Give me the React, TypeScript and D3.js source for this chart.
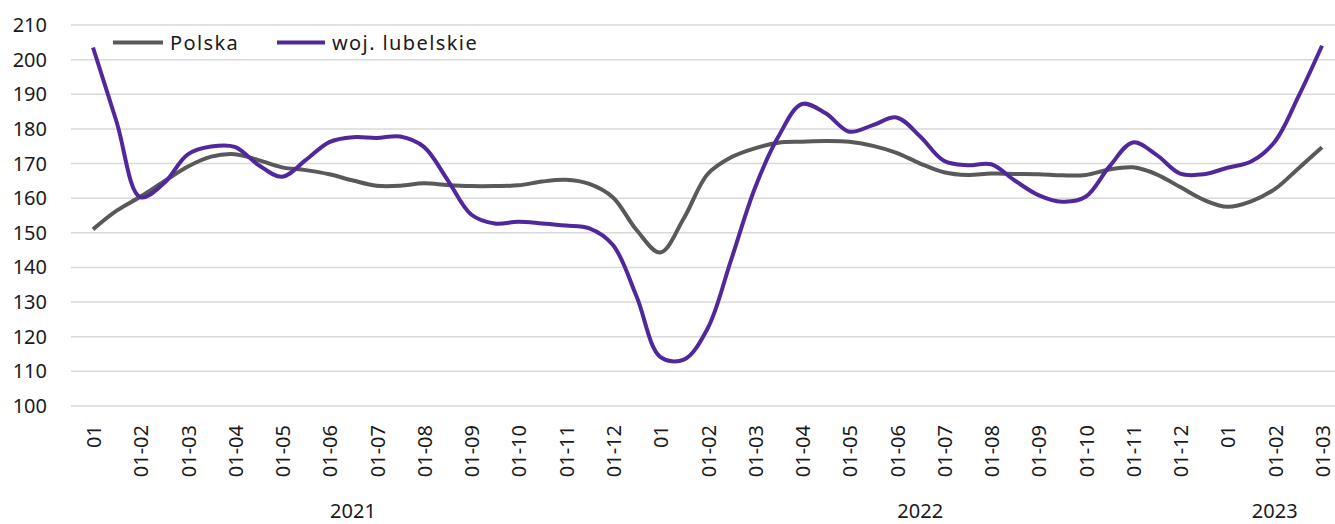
import React from "react";
import * as d3 from "d3";

const categories = [
  "01", "01-02", "01-03", "01-04", "01-05", "01-06", "01-07", "01-08", "01-09", "01-10", "01-11", "01-12",
  "01", "01-02", "01-03", "01-04", "01-05", "01-06", "01-07", "01-08", "01-09", "01-10", "01-11", "01-12",
  "01", "01-02", "01-03",
];

const years = [
  { label: "2021", from: 0, to: 11 },
  { label: "2022", from: 12, to: 23 },
  { label: "2023", from: 24, to: 26 },
];

const yTicks = [100, 110, 120, 130, 140, 150, 160, 170, 180, 190, 200, 210];

// semi-monthly readings (step = half a category)
const polska = [
  151, 156.4, 160.4, 164.8, 169.1, 172, 172.7, 171, 168.9, 168.1,
  166.9, 165.1, 163.6, 163.6, 164.3, 163.8, 163.5, 163.5, 163.7, 164.8,
  165.3, 164.1, 160.2, 150.8, 144.3, 154.2, 166.9, 171.8, 174.4, 176,
  176.3, 176.5, 176.3, 175.1, 173.1, 170, 167.5, 166.7, 167.1, 167,
  166.9, 166.6, 166.7, 168.3, 168.9, 166.9, 163.2, 159.5, 157.5, 159.1,
  162.6, 168.6, 174.7,
];

const lubelskie = [
  203.5, 182, 160.3, 164.3, 172.6, 174.9, 174.8, 169.6, 166.2, 171,
  176.2, 177.6, 177.4, 177.8, 174.8, 165.3, 155.3, 152.7, 153.2, 152.7,
  152.1, 151.3, 146.5, 131.6, 114.2, 113.4, 122.3, 142.2, 162.8, 177.8,
  187.2, 184.5, 179.2, 181.1, 183.3, 177.8, 170.8, 169.5, 169.8, 165.1,
  160.9, 159, 160.4, 169.1, 176.1, 172.5, 167.1, 166.9, 168.8, 170.6,
  176.3, 189.3, 204,
];

const seriesNames = ["Polska", "woj. lubelskie"];
const seriesColors = ["#595959", "#51289B"];

const W = 1335;
const H = 524;
const FONT = "'Noto Sans', sans-serif";

export default function App() {
  const x = d3.scaleLinear().domain([0, categories.length - 1]).range([93, 1322]);
  const y = d3.scaleLinear().domain([100, 210]).range([406, 25]);

  const line = d3
    .line<number>()
    .x((_, i) => x(i / 2))
    .y((d) => y(d))
    .curve(d3.curveCatmullRom.alpha(0.5));

  const series = [polska, lubelskie];

  const legendItems = [
    { x1: 113, x2: 163, tx: 170 },
    { x1: 277, x2: 325, tx: 332 },
  ];

  return (
    <svg
      width={W}
      height={H}
      style={{ position: "absolute", left: 0, top: 0, background: "#fff" }}
      fontFamily={FONT}
    >
      {yTicks.map((t) => (
        <g key={t}>
          <line x1={71} x2={W} y1={y(t)} y2={y(t)} stroke="#d9d9d9" strokeWidth={1.5} />
          <text x={47} y={y(t)} dy="0.35em" textAnchor="end" fontSize={20} fill="#1a1a1a">
            {t}
          </text>
        </g>
      ))}

      {categories.map((c, i) => (
        <text
          key={i}
          transform={`translate(${x(i) + 1},425) rotate(-90)`}
          dy="0.35em"
          textAnchor="end"
          fontSize={20}
          fill="#1a1a1a"
        >
          {c}
        </text>
      ))}

      {years.map((yr) => (
        <text
          key={yr.label}
          x={x((yr.from + yr.to) / 2)}
          y={518}
          textAnchor="middle"
          fontSize={20}
          fill="#1a1a1a"
        >
          {yr.label}
        </text>
      ))}

      {series.map((s, k) => (
        <path
          key={k}
          d={line(s) || ""}
          fill="none"
          stroke={seriesColors[k]}
          strokeWidth={4}
          strokeLinejoin="round"
        />
      ))}

      {legendItems.map((it, k) => (
        <g key={k}>
          <line x1={it.x1} x2={it.x2} y1={42.5} y2={42.5} stroke={seriesColors[k]} strokeWidth={4} />
          <text x={it.tx} y={42.5} dy="0.35em" fontSize={20} fill="#1a1a1a" letterSpacing={1.4}>
            {seriesNames[k]}
          </text>
        </g>
      ))}
    </svg>
  );
}
